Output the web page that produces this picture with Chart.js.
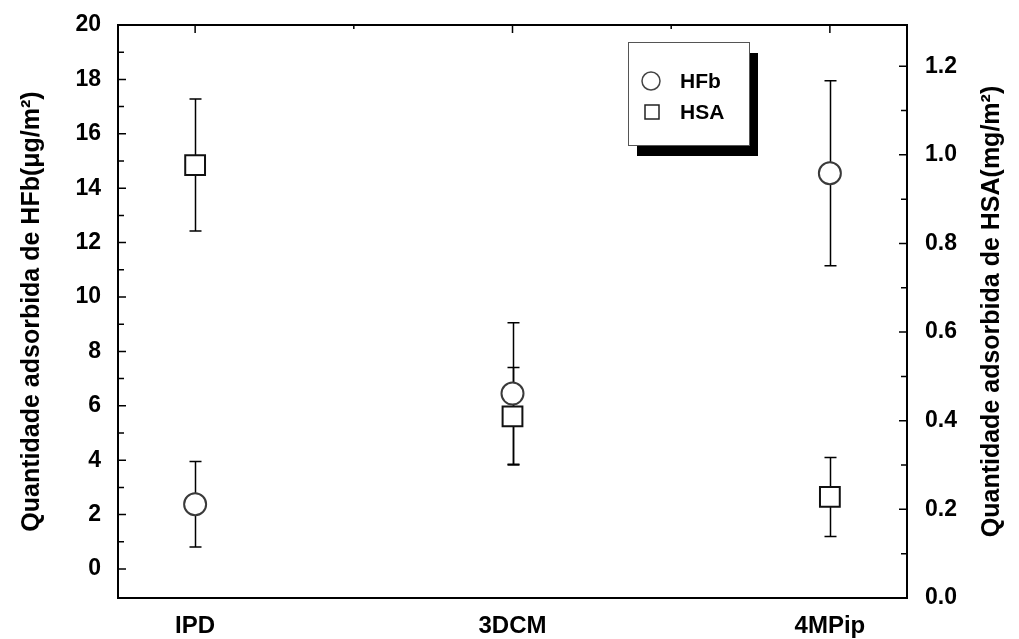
<!DOCTYPE html>
<html>
<head>
<meta charset="utf-8">
<script src="https://cdn.jsdelivr.net/npm/chart.js@4"></script>
<style>
html, body { margin: 0; padding: 0; background: #fff; }
</style>
</head>
<body>
<canvas id="grafico" width="1019" height="639"></canvas>
<script>
// dados
const categorias = ['IPD', '3DCM', '4MPip'];
const nomesSeries = ['HFb', 'HSA'];
const hfbValores = [2.38, 6.45, 14.55];
const hfbErros = [1.57, 2.6, 3.4];
const hsaValores = [0.977, 0.41, 0.228];
const hsaErros = [0.149, 0.11, 0.089];
const ticksEsq = [0, 2, 4, 6, 8, 10, 12, 14, 16, 18, 20];
const ticksDir = [0.0, 0.2, 0.4, 0.6, 0.8, 1.0, 1.2];
const tituloEsq = 'Quantidade adsorbida de HFb(\u03bcg/m\u00b2)';
const tituloDir = 'Quantidade adsorbida de HSA(mg/m\u00b2)';

const fonte = 'Arial, "Liberation Sans", sans-serif';

const pontos = (vals) => vals.map((v, i) => ({ x: i, y: v }));

// barras de erro, ticks para dentro, moldura, título direito e legenda
const extras = {
    id: 'extras',
    beforeDatasetsDraw(chart) {
        const { ctx, scales } = chart;
        ctx.save();
        ctx.strokeStyle = '#000';
        ctx.lineWidth = 1.5;
        chart.data.datasets.forEach(ds => {
            const ys = scales[ds.yAxisID];
            ds.erros.forEach((e, j) => {
                const p = ds.data[j];
                const x = Math.round(scales.x.getPixelForValue(p.x)) + 0.5;
                const yt = ys.getPixelForValue(p.y + e);
                const yb = ys.getPixelForValue(p.y - e);
                ctx.beginPath();
                ctx.moveTo(x, yt); ctx.lineTo(x, yb);
                ctx.moveTo(x - 6, yt); ctx.lineTo(x + 6, yt);
                ctx.moveTo(x - 6, yb); ctx.lineTo(x + 6, yb);
                ctx.stroke();
            });
        });
        ctx.restore();
    },
    afterDraw(chart) {
        const { ctx, chartArea: a, scales } = chart;
        ctx.save();
        ctx.strokeStyle = '#000';
        ctx.lineWidth = 1.5;
        ctx.beginPath();
        ticksEsq.forEach((v, i) => {
            let y = scales.y.getPixelForValue(v);
            ctx.moveTo(a.left, y); ctx.lineTo(a.left + 8, y);
            if (i < ticksEsq.length - 1) {
                y = scales.y.getPixelForValue(v + 1);
                ctx.moveTo(a.left, y); ctx.lineTo(a.left + 6, y);
            }
        });
        ticksDir.forEach((v, i) => {
            let y = scales.y1.getPixelForValue(v);
            ctx.moveTo(a.right, y); ctx.lineTo(a.right - 8, y);
            y = scales.y1.getPixelForValue(v + 0.1);
            if (y > a.top) { ctx.moveTo(a.right, y); ctx.lineTo(a.right - 6, y); }
        });
        categorias.forEach((c, i) => {
            let x = scales.x.getPixelForValue(i);
            ctx.moveTo(x, a.top); ctx.lineTo(x, a.top + 8);
            if (i < categorias.length - 1) {
                x = scales.x.getPixelForValue(i + 0.5);
                ctx.moveTo(x, a.top); ctx.lineTo(x, a.top + 4);
            }
        });
        ctx.stroke();
        ctx.lineWidth = 2;
        ctx.strokeRect(a.left, a.top, a.right - a.left, a.bottom - a.top);

        // título do eixo direito, lido de baixo para cima
        ctx.save();
        ctx.translate(992, (a.top + a.bottom) / 2);
        ctx.rotate(-Math.PI / 2);
        ctx.fillStyle = '#000';
        ctx.font = 'bold 25px ' + fonte;
        ctx.textAlign = 'center';
        ctx.textBaseline = 'middle';
        ctx.fillText(tituloDir, 0, 0);
        ctx.restore();

        // legenda
        const lx = 628, ly = 42, lw = 121, lh = 103;
        ctx.fillStyle = '#000';
        ctx.fillRect(lx + 9, ly + 11, lw, lh);
        ctx.fillStyle = '#fff';
        ctx.fillRect(lx, ly, lw, lh);
        ctx.lineWidth = 1;
        ctx.strokeStyle = '#555';
        ctx.strokeRect(lx + 0.5, ly + 0.5, lw, lh);
        ctx.lineWidth = 1.5;
        ctx.strokeStyle = '#444';
        ctx.beginPath();
        ctx.arc(651, 81, 9, 0, Math.PI * 2);
        ctx.stroke();
        ctx.strokeStyle = '#222';
        ctx.strokeRect(645, 105, 14, 14);
        ctx.fillStyle = '#000';
        ctx.font = 'bold 21px ' + fonte;
        ctx.textBaseline = 'middle';
        ctx.fillText(nomesSeries[0], 680, 82);
        ctx.fillText(nomesSeries[1], 680, 113);
        ctx.restore();
    }
};

const semFolga = (largura) => s => {
    s.width = largura;
    s.paddingTop = 0;
    s.paddingBottom = 0;
};

new Chart(document.getElementById('grafico'), {
    type: 'scatter',
    data: {
        datasets: [{
            label: nomesSeries[0],
            data: pontos(hfbValores),
            erros: hfbErros,
            yAxisID: 'y',
            pointStyle: 'circle',
            pointRadius: 11,
            pointBorderWidth: 2,
            pointBorderColor: '#3a3a3a',
            pointBackgroundColor: '#fff'
        }, {
            label: nomesSeries[1],
            data: pontos(hsaValores),
            erros: hsaErros,
            yAxisID: 'y1',
            pointStyle: 'rect',
            pointRadius: 14,
            pointBorderWidth: 2,
            pointBorderColor: '#111',
            pointBackgroundColor: '#fff'
        }]
    },
    options: {
        responsive: false,
        animation: false,
        layout: { padding: { top: 25, left: 0, right: 0, bottom: 0 } },
        scales: {
            x: {
                type: 'linear',
                min: -0.243,
                max: 2.243,
                afterBuildTicks: s => { s.ticks = categorias.map((c, i) => ({ value: i })); },
                afterFit: s => { s.height = 41; s.paddingLeft = 0; s.paddingRight = 0; },
                grid: { display: false, drawTicks: false },
                border: { display: false },
                ticks: {
                    callback: v => categorias[v],
                    color: '#000',
                    padding: 14,
                    maxRotation: 0,
                    font: { family: fonte, size: 24, weight: 'bold' }
                }
            },
            y: {
                position: 'left',
                min: -1.066,
                max: 20,
                afterBuildTicks: s => { s.ticks = ticksEsq.map(v => ({ value: v })); },
                afterFit: semFolga(118),
                grid: { display: false, drawTicks: false },
                border: { display: false },
                title: {
                    display: true,
                    text: tituloEsq,
                    color: '#000',
                    padding: { top: 17, bottom: 0 },
                    font: { family: fonte, size: 25, weight: 'bold' }
                },
                ticks: {
                    color: '#000',
                    padding: 17,
                    font: { family: fonte, size: 23, weight: 'bold' }
                }
            },
            y1: {
                position: 'right',
                min: 0,
                max: 1.293,
                afterBuildTicks: s => { s.ticks = ticksDir.map(v => ({ value: v })); },
                afterFit: semFolga(112),
                grid: { display: false, drawTicks: false },
                border: { display: false },
                ticks: {
                    color: '#000',
                    padding: 18,
                    callback: v => v.toFixed(1),
                    font: { family: fonte, size: 23, weight: 'bold' }
                }
            }
        },
        plugins: {
            legend: { display: false },
            tooltip: { enabled: false }
        }
    },
    plugins: [extras]
});
</script>
</body>
</html>
